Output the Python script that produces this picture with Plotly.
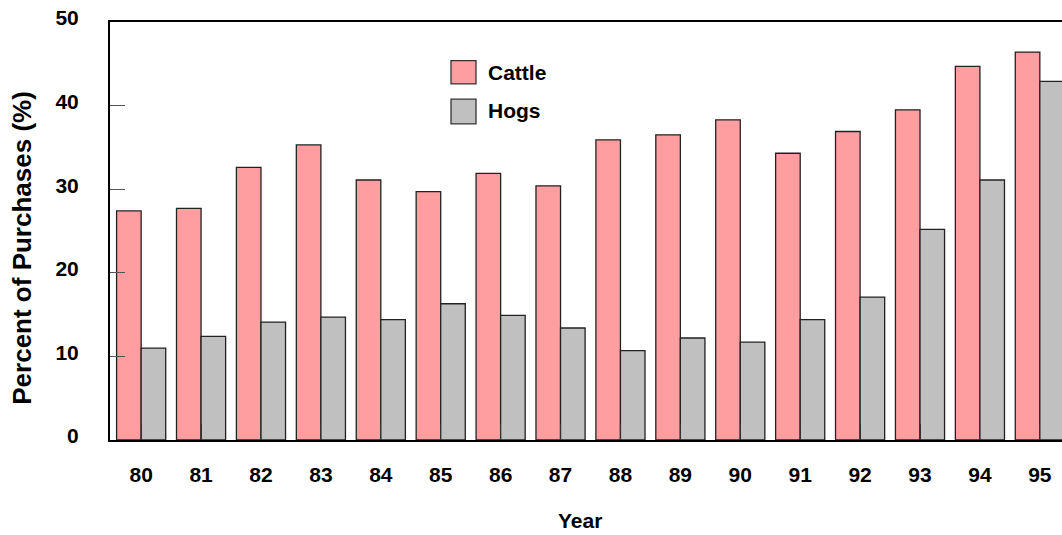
import plotly.graph_objects as go

years = ["80", "81", "82", "83", "84", "85", "86", "87",
         "88", "89", "90", "91", "92", "93", "94", "95"]
cattle = [27.4, 27.7, 32.6, 35.3, 31.1, 29.7, 31.9, 30.4,
          35.9, 36.5, 38.3, 34.3, 36.9, 39.5, 44.7, 46.4]
hogs = [11.0, 12.4, 14.1, 14.7, 14.4, 16.3, 14.9, 13.4,
        10.7, 12.2, 11.7, 14.4, 17.1, 25.2, 31.1, 42.9]
y_ticks = [0, 10, 20, 30, 40, 50]

FONT = "Liberation Sans, Arial, Helvetica, sans-serif"
PINK = "#FF9EA0"
GRAY = "#C0C0C0"

W, H = 1062, 535
L, R, T, B = 110, 0, 22, 94.5
pw, ph = W - L - R, H - T - B

fig = go.Figure()
fig.add_trace(go.Bar(x=years, y=cattle, name="Cattle",
                     marker=dict(color=PINK, line=dict(color="#222", width=1.3)),
                     showlegend=False))
fig.add_trace(go.Bar(x=years, y=hogs, name="Hogs",
                     marker=dict(color=GRAY, line=dict(color="#222", width=1.3)),
                     showlegend=False))

def px2paper_x(px):
    return (px - L) / pw

def px2paper_y(py):
    return (H - B - py) / ph

shapes = []
annotations = []
legend_items = [("Cattle", PINK, 60.7, 84.0, 73), ("Hogs", GRAY, 99.3, 124.0, 111)]
for name, col, top, bot, cy in legend_items:
    shapes.append(dict(type="rect", xref="paper", yref="paper",
                       x0=px2paper_x(451), x1=px2paper_x(476),
                       y0=px2paper_y(bot), y1=px2paper_y(top),
                       fillcolor=col, line=dict(color="#333", width=1.3)))
    annotations.append(dict(text=name, xref="paper", yref="paper",
                            x=px2paper_x(486), y=px2paper_y(cy),
                            xanchor="left", yanchor="middle", showarrow=False,
                            font=dict(family=FONT, size=21, color="black", weight="bold")))

annotations.append(dict(text="Percent of Purchases (%)", xref="paper", yref="paper",
                        x=px2paper_x(22), y=px2paper_y(248), textangle=-90,
                        xanchor="center", yanchor="middle", showarrow=False,
                        font=dict(family=FONT, size=26, color="black", weight="bold")))
annotations.append(dict(text="Year", xref="paper", yref="paper",
                        x=px2paper_x(580), y=px2paper_y(521),
                        xanchor="center", yanchor="middle", showarrow=False,
                        font=dict(family=FONT, size=21, color="black", weight="bold")))

fig.update_layout(
    width=W, height=H,
    margin=dict(l=L, r=R, t=T, b=B, autoexpand=False),
    paper_bgcolor="white", plot_bgcolor="white",
    barmode="group", bargap=0.18, bargroupgap=0,
    shapes=shapes, annotations=annotations,
    showlegend=False,
)
fig.update_xaxes(
    type="category", range=[-0.52, 15.37],
    showline=True, linecolor="black", linewidth=2.2, mirror=True,
    ticks="inside", ticklen=16, tickcolor="#333", tickwidth=1,
    ticklabelstandoff=15,
    tickfont=dict(family=FONT, size=21, color="black", weight="bold"),
    showgrid=False, zeroline=False, automargin=False,
)
fig.update_yaxes(
    range=[0, 50], tickvals=y_ticks, ticktext=[str(v) for v in y_ticks],
    showline=True, linecolor="black", linewidth=2,
    ticks="inside", ticklen=15, tickcolor="#555", tickwidth=1,
    ticklabelstandoff=25, ticklabelshift=-4,
    tickfont=dict(family=FONT, size=21, color="black", weight="bold"),
    showgrid=False, zeroline=False, automargin=False,
)

fig.write_html("out.html",
               config={"displayModeBar": False},
               post_script="document.body.style.margin='0';document.body.style.overflow='hidden';")
